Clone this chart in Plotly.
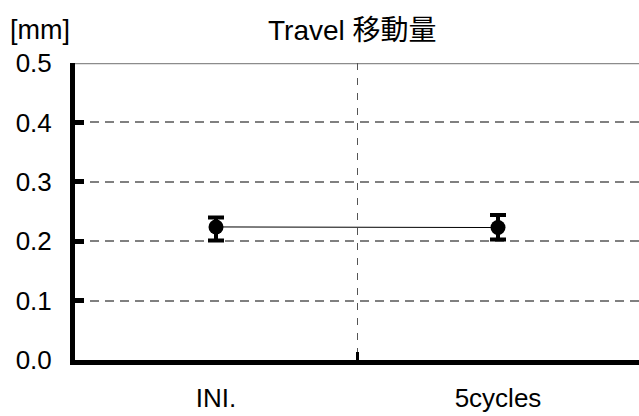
import plotly.graph_objects as go

categories = ["INI.", "5cycles"]
travel_mean = [0.224, 0.223]
err_plus = [0.016, 0.021]
err_minus = [0.023, 0.020]
y_ticks = [0.0, 0.1, 0.2, 0.3, 0.4, 0.5]
y_ticktext = ["0.0", "0.1", "0.2", "0.3", "0.4", "0.5"]
title_text = "Travel 移動量"
unit_text = "[mm]"

x_pos = list(range(len(categories)))
FONT = "Liberation Sans, Arial, Noto Sans CJK JP, sans-serif"

fig = go.Figure()
fig.add_trace(go.Scatter(
    x=x_pos, y=travel_mean,
    mode="lines+markers",
    line=dict(color="black", width=1),
    marker=dict(color="black", size=15, symbol="circle"),
    error_y=dict(type="data", symmetric=False, array=err_plus, arrayminus=err_minus,
                 color="black", thickness=4, width=8),
    showlegend=False,
    hoverinfo="skip",
))

fig.add_shape(type="line", xref="paper", yref="y", x0=0, x1=1, y0=y_ticks[-1], y1=y_ticks[-1],
              line=dict(color="#8c8c8c", width=2.5), layer="below")

fig.update_layout(
    width=639, height=416,
    margin=dict(l=75, r=0, t=63, b=56),
    paper_bgcolor="white", plot_bgcolor="white",
    font=dict(family=FONT, size=26, color="black"),
    xaxis=dict(
        range=[-0.5, 1.5],
        tickvals=x_pos, ticktext=categories,
        ticks="", showgrid=False, zeroline=False,
        showline=True, linecolor="black", linewidth=5,
        ticklabelstandoff=11,
        minor=dict(tickvals=[0.5], ticks="inside", ticklen=8, tickwidth=3, tickcolor="black",
                   showgrid=True, gridcolor="#555555", gridwidth=1, griddash="7px,8px"),
    ),
    yaxis=dict(
        range=[0, 0.5],
        tickvals=y_ticks, ticktext=y_ticktext,
        ticks="inside", ticklen=9, tickwidth=4.5, tickcolor="black",
        showgrid=True, gridcolor="#808080", gridwidth=1.8, griddash="9px,6px",
        zeroline=False,
        showline=True, linecolor="black", linewidth=5,
        ticklabelstandoff=13,
    ),
    annotations=[
        dict(text=title_text, xref="paper", yref="paper", x=0.5, y=1, yshift=33, xshift=-5,
             showarrow=False, xanchor="center", yanchor="middle", font=dict(size=28)),
        dict(text=unit_text, xref="paper", yref="paper", x=0, xshift=-67, y=1, yshift=33,
             showarrow=False, xanchor="left", yanchor="middle", font=dict(size=27)),
    ],
)

fig.write_html("out.html", config={"displayModeBar": False},
               post_script="document.body.style.margin='0';")
